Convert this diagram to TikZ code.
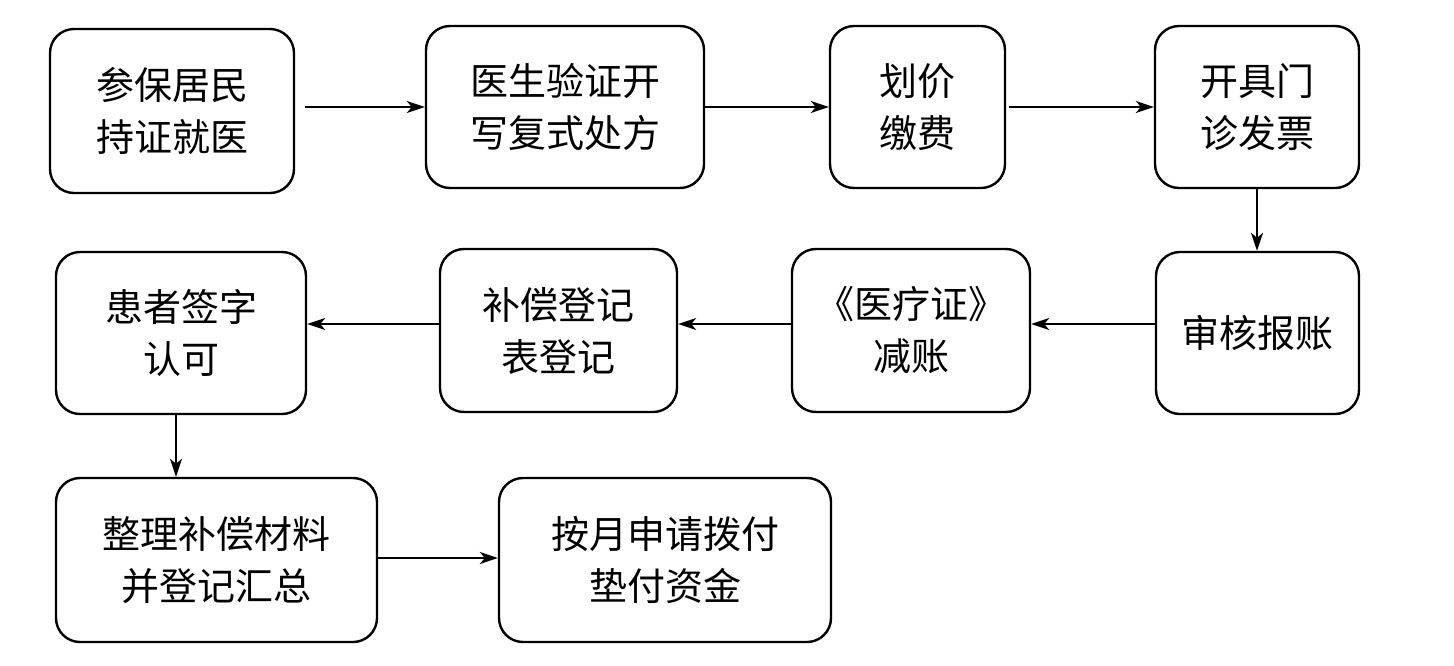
\documentclass[tikz,border=0pt]{standalone}
\usepackage{fontspec}
\setmainfont{Noto Sans CJK SC}
\usetikzlibrary{arrows.meta}
\begin{document}
\begin{tikzpicture}[x=0.5pt,y=-0.5pt,
  box/.style={draw, line width=1.2pt, rounded corners=12pt, align=center,
    inner sep=0pt, font=\fontsize{19}{26}\selectfont},
  arr/.style={line width=1.1pt, -{Stealth[length=9pt,width=6pt,inset=2.5pt]}}]
\useasboundingbox (0,0) rectangle (1454,665);
\node[box, minimum width=122pt, minimum height=82pt] (b1) at (172,111) {参保居民\\持证就医};
\node[box, minimum width=139pt, minimum height=81pt] (b2) at (565,107) {医生验证开\\写复式处方};
\node[box, minimum width=87.5pt, minimum height=81pt] (b3) at (917.5,107) {划价\\缴费};
\node[box, minimum width=102pt, minimum height=81pt] (b4) at (1257,107) {开具门\\诊发票};
\node[box, minimum width=101.5pt, minimum height=81pt] (b5) at (1257.5,333) {审核报账};
\node[box, minimum width=119pt, minimum height=81.5pt] (b6) at (911,330.5) {《医疗证》\\减账};
\node[box, minimum width=118.5pt, minimum height=81.5pt] (b7) at (558.5,330.5) {补偿登记\\表登记};
\node[box, minimum width=125pt, minimum height=81pt] (b8) at (181,333) {患者签字\\认可};
\node[box, minimum width=160.5pt, minimum height=82pt] (b9) at (216.5,560) {整理补偿材料\\并登记汇总};
\node[box, minimum width=166pt, minimum height=82pt] (b10) at (665,560) {按月申请拨付\\垫付资金};
\coordinate (r2) at (0,324);
\coordinate (r3) at (0,558);
\coordinate (c2) at (176,0);
\draw[arr, shorten <=5pt] (b1.east |- b2.west) -- (b2.west);
\draw[arr] (b2.east) -- (b3.west);
\draw[arr, shorten <=1.5pt] (b3.east) -- (b4.west);
\draw[arr] (b4.south) -- (b4.south |- b5.north);
\draw[arr] (b5.west |- r2) -- (b6.east |- r2);
\draw[arr] (b6.west |- r2) -- (b7.east |- r2);
\draw[arr] (b7.west |- r2) -- (b8.east |- r2);
\draw[arr] (b8.south -| c2) -- (b9.north -| c2);
\draw[arr] (b9.east |- r3) -- (b10.west |- r3);
\end{tikzpicture}
\end{document}
